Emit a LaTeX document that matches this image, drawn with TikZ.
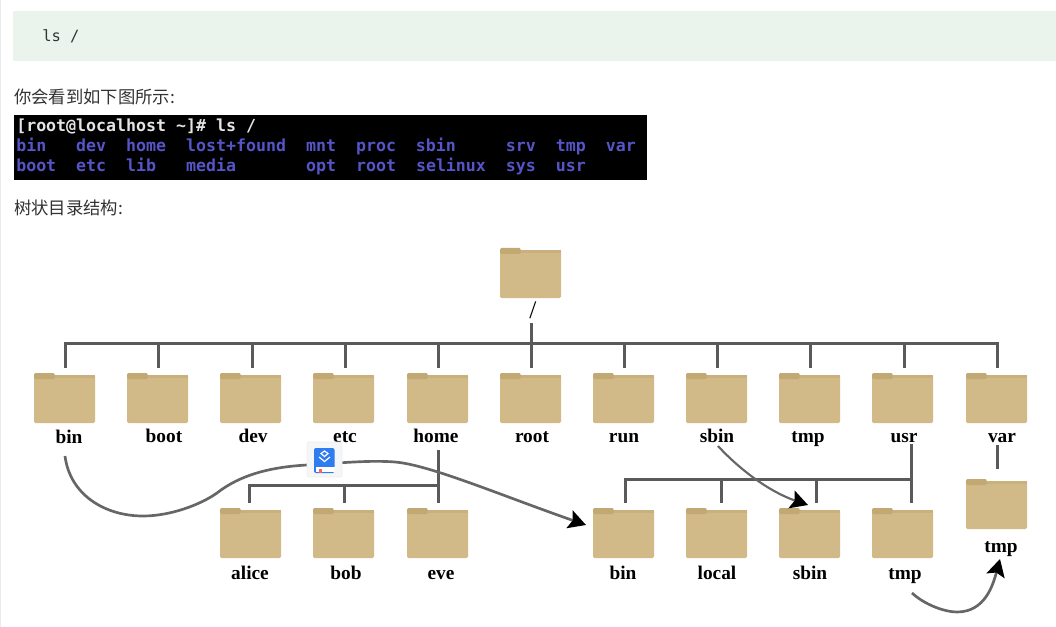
\documentclass[tikz,border=0pt]{standalone}
\usepackage{fontspec}
\setmainfont{Liberation Serif}
\newfontfamily\cjkfont{Noto Sans CJK SC}
\newfontfamily\termfont{DejaVu Sans Mono}
\usetikzlibrary{arrows.meta}
\definecolor{folderbody}{HTML}{D2BA88}
\definecolor{foldertab}{HTML}{C2A873}
\definecolor{foldertop}{HTML}{C9B07D}
\definecolor{wire}{HTML}{5A5A5A}
\definecolor{curvecol}{HTML}{666666}
\definecolor{codebg}{HTML}{EAF4EC}
\definecolor{termblue}{HTML}{5555C8}
\definecolor{termwhite}{HTML}{E4E4E4}
\definecolor{inktext}{HTML}{333333}
\definecolor{iconbg}{HTML}{F5F6F8}
\definecolor{iconblue}{HTML}{2F7BF0}
\tikzset{
  folder/.style={minimum width=45.75pt,minimum height=37.5pt,inner sep=0pt,outer sep=0pt,
    path picture={
      \coordinate (sw) at (path picture bounding box.south west);
      \coordinate (ne) at (path picture bounding box.north east);
      \fill[folderbody,rounded corners=1pt] ([yshift=-1.6pt]sw|-ne) -- ([yshift=-1.6pt]ne) -- (ne|-sw) -- (sw) -- cycle;
      \fill[foldertop] ([yshift=-1.6pt]sw|-ne) rectangle ([yshift=-4pt]ne);
      \fill[foldertab,rounded corners=1pt] (sw|-ne) rectangle ([xshift=15.5pt,yshift=-4.5pt]sw|-ne);
    }},
  flabel/.style={font=\bfseries\fontsize{14.5pt}{16pt}\selectfont,anchor=base,inner sep=0pt,text=black},
  busline/.style={draw=wire,line width=2.25pt,line cap=butt},
  busend/.style={busline,shorten >=3.75pt},
  curveline/.style={draw=curvecol,line width=2pt},
  curvearrow/.style={curveline,-{Stealth[length=13pt,width=14pt,inset=2.5pt,color=black]}},
  termline/.style={font=\termfont\bfseries\fontsize{12.45pt}{14pt}\selectfont,anchor=base west,inner sep=0pt},
  heading/.style={font=\cjkfont\fontsize{13pt}{15pt}\selectfont,anchor=base west,inner sep=0pt,text=inktext},
}
\newcommand{\foldernode}[6]{%
  \node[folder] (f#1) at (#2,#3) {};
  \node[flabel] (l#1) at (#5,#6) {#4};
}
\begin{document}
\begin{tikzpicture}[x=0.75pt,y=-0.75pt]
\useasboundingbox (0,0) rectangle (1056,627);
\fill[white] (0,0) rectangle (1056,627);
\fill[black!8] (0,0) rectangle (1,627);
% code block
\node[fill=codebg,minimum width=782.25pt,minimum height=37.5pt,inner sep=0pt,anchor=north west] (codeblock) at (13,11) {};
\node[font=\termfont\fontsize{11.6pt}{14pt}\selectfont,anchor=base west,inner sep=0pt,text=inktext] (codetext) at (42,42) {ls /};
\node[heading] (head1) at (14,104) {你会看到如下图所示:};
% terminal
\node[fill=black,minimum width=474.75pt,minimum height=48.75pt,inner sep=0pt,anchor=north west] (terminal) at (14,115) {};
\node[termline,text=termwhite] (t1) at (16,132) {[root@localhost~\textasciitilde]\#~ls~/};
\node[termline,text=termblue] (t2) at (16,152) {bin~~~dev~~home~~lost+found~~mnt~~proc~~sbin~~~~~srv~~tmp~~var};
\node[termline,text=termblue] (t3) at (16,172) {boot~~etc~~lib~~~media~~~~~~~opt~~root~~selinux~~sys~~usr};
\node[heading] (head2) at (14,215) {树状目录结构:};
% folders
\foldernode{root0}{530.5}{273}{\mdseries\fontsize{19pt}{20pt}\selectfont /}{533}{318}
\foldernode{bin}{64.5}{398}{bin}{69}{443}
\foldernode{boot}{157.5}{398}{boot}{164}{442}
\foldernode{dev}{250.5}{398}{dev}{253}{442}
\foldernode{etc}{343.5}{398}{etc}{345}{442}
\foldernode{home}{437.5}{398}{home}{436}{442}
\foldernode{root}{530.5}{398}{root}{532}{442}
\foldernode{run}{623.5}{398}{run}{624}{442}
\foldernode{sbin}{716.5}{398}{sbin}{717}{442}
\foldernode{tmp}{809.5}{398}{tmp}{808}{442}
\foldernode{usr}{902.5}{398}{usr}{904}{442}
\foldernode{var}{996.5}{398}{var}{1002}{442}
\foldernode{alice}{250.5}{533}{alice}{250}{579}
\foldernode{bob}{343.5}{533}{bob}{346}{579}
\foldernode{eve}{437.5}{533}{eve}{441}{579}
\foldernode{ubin}{623.5}{533}{bin}{623}{579}
\foldernode{local}{716.5}{533}{local}{717}{579}
\foldernode{usbin}{809.5}{533}{sbin}{810}{579}
\foldernode{utmp}{902.5}{533}{tmp}{905}{579}
\foldernode{vtmp}{996.5}{504}{tmp}{1001}{552}
% top tree
\coordinate (rootstem) at (531.5,323);
\foreach \n/\x in {bin/65.5,boot/158.5,dev/252.5,etc/345.5,home/438.5,root/531.5,run/624.5,sbin/717.5,tmp/810.5,usr/904.5,var/997.5}{
  \coordinate (b\n) at (\x,343.5);
}
\draw[busline] (rootstem) -- (broot);
\draw[busline] ([xshift=-1.125pt]bbin) -- ([xshift=1.125pt]bvar);
\foreach \n in {bin,boot,dev,etc,home,root,run,sbin,tmp,usr,var}{
  \draw[busend] ([yshift=-1.125pt]b\n) -- (b\n|-f\n.north);
}
% home tree
\foreach \n/\x in {alice/249.5,bob/344.5,eve/438.5}{
  \coordinate (b\n) at (\x,485.5);
}
\coordinate (homestem) at (438.5,450);
\draw[busline] ([xshift=-1.125pt]balice) -- (beve);
\draw[busend] ([yshift=-1.125pt]balice) -- (balice|-falice.north);
\draw[busend] ([yshift=-1.125pt]bbob) -- (bbob|-fbob.north);
\draw[busend] (homestem) -- (homestem|-feve.north);
% usr tree
\foreach \n/\x in {ubin/625.5,local/721.5,usbin/816.5,utmp/911.5}{
  \coordinate (b\n) at (\x,479.5);
}
\coordinate (usrstem) at (911.5,444);
\draw[busline] ([xshift=-1.125pt]bubin) -- (butmp);
\draw[busend] ([yshift=-1.125pt]bubin) -- (bubin|-fubin.north);
\draw[busend] ([yshift=-1.125pt]blocal) -- (blocal|-flocal.north);
\draw[busend] ([yshift=-1.125pt]busbin) -- (busbin|-fusbin.north);
\draw[busend] (usrstem) -- (usrstem|-futmp.north);
% var
\coordinate (varstem) at (997.5,445);
\coordinate (varend) at (997.5,469);
\draw[busline] (varstem) -- (varend);
% curves
\coordinate (binout) at (65,456);
\coordinate (ubintip) at (586,525);
\coordinate (sbinout) at (718,446);
\coordinate (usbintip) at (808,505);
\coordinate (tmpout) at (912,593);
\coordinate (vtmptip) at (1000,559);
\draw[curvearrow] (binout) .. controls (70,495) and (105,516) .. (143,516)
  .. controls (170,516) and (200,505) .. (217,493)
  .. controls (240,475) and (270,467) .. (307,465)
  .. controls (340,463) and (370,460) .. (395,462)
  .. controls (430,465) and (500,495) .. (ubintip);
\draw[curvearrow,line width=1.6pt] (sbinout) .. controls (740,470) and (770,492) .. (usbintip);
\draw[curvearrow] (tmpout) .. controls (925,605) and (945,612) .. (957,612)
  .. controls (985,612) and (993,585) .. (vtmptip);
% floating icon
\node[fill=iconbg,draw=black!6,line width=0.5pt,rounded corners=1.5pt,minimum width=26.25pt,minimum height=26.25pt,inner sep=0pt] (icon) at (324.5,459.5) {};
\fill[iconblue,rounded corners=1.5pt] (314,448) rectangle (334.5,473);
\fill[white] (315.5,467) rectangle (334.5,471.5);
\fill[red!50!pink] (318.5,469) rectangle (322,472.5);
\draw[white,line width=0.9pt] (319,457) -- (324.5,461.5) -- (330,457);
\draw[white,line width=0.9pt] (321,453.5) -- (324.5,456.5) -- (328,453.5) -- (324.5,451) -- cycle;
\end{tikzpicture}
\end{document}
